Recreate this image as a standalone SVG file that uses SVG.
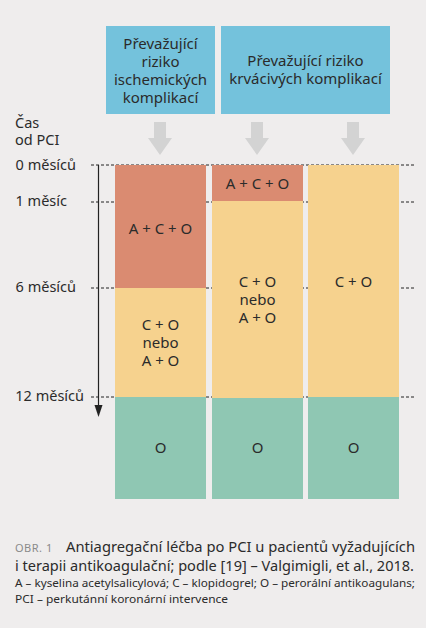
<svg xmlns="http://www.w3.org/2000/svg" width="426" height="628" viewBox="0 0 426 628">
<defs>
<style>
text{font-family:"Noto Sans","Open Sans",sans-serif;fill:#2b2b2b}
.h{font-size:15px;text-anchor:middle}
.c{font-size:15px;text-anchor:middle}
.l{font-size:14.5px;text-anchor:end}
.tick{stroke:#222;stroke-width:1;stroke-dasharray:3 2;fill:none}
.blue{fill:#74c2dc}
.red{fill:#da8b71}
.yel{fill:#f6d28e}
.grn{fill:#8fc7b3}
.garrow{fill:#d3d3d3}
</style>
</defs>
<rect width="426" height="628" fill="#efeded"/>

<g id="connectors">
<line class="tick" x1="91" y1="165" x2="416" y2="165"/>
<line class="tick" x1="91" y1="202" x2="416" y2="202"/>
<line class="tick" x1="91" y1="288" x2="416" y2="288"/>
<line class="tick" x1="91" y1="397" x2="416" y2="397"/>
<line x1="98.5" y1="165" x2="98.5" y2="405" stroke="#222" stroke-width="1.2"/>
<path d="M94.5,405 L102.5,405 L98.5,417 Z" fill="#222"/>
<path class="garrow" d="M154,122 H166 V138 H172 L160,155 L148,138 H154 Z"/>
<path class="garrow" d="M251,122 H263 V138 H269 L257,155 L245,138 H251 Z"/>
<path class="garrow" d="M347,122 H359 V138 H365 L353,155 L341,138 H347 Z"/>
</g>

<g id="head-ischemic">
<rect class="blue" x="106" y="26" width="109" height="88"/>
<text class="h" x="160.5" y="49">Převažující</text>
<text class="h" x="160.5" y="67">riziko</text>
<text class="h" x="160.5" y="85">ischemických</text>
<text class="h" x="160.5" y="103">komplikací</text>
</g>
<g id="head-bleeding">
<rect class="blue" x="221" y="26" width="169" height="88"/>
<text class="h" x="305.5" y="66">Převažující riziko</text>
<text class="h" x="305.5" y="84">krvácivých komplikací</text>
</g>

<g id="axis-labels">
<text x="15" y="128" font-size="14.5px">Čas</text>
<text x="15" y="145" font-size="14.5px">od PCI</text>
<text class="l" x="76" y="170">0 měsíců</text>
<text class="l" x="67" y="206">1 měsíc</text>
<text class="l" x="76" y="292">6 měsíců</text>
<text class="l" x="84" y="401">12 měsíců</text>
</g>

<g id="col1-aco"><rect class="red" x="115" y="165" width="91" height="123"/><text class="c" x="160.5" y="234">A + C + O</text></g>
<g id="col1-co"><rect class="yel" x="115" y="288" width="91" height="109"/>
<text class="c" x="160.5" y="330">C + O</text><text class="c" x="160.5" y="348">nebo</text><text class="c" x="160.5" y="366">A + O</text></g>
<g id="col1-o"><rect class="grn" x="115" y="397" width="91" height="102"/><text class="c" x="160.5" y="453">O</text></g>

<g id="col2-aco"><rect class="red" x="212" y="165" width="91" height="36"/><text class="c" x="257.5" y="189">A + C + O</text></g>
<g id="col2-co"><rect class="yel" x="212" y="201" width="91" height="197"/>
<text class="c" x="257.5" y="287">C + O</text><text class="c" x="257.5" y="305">nebo</text><text class="c" x="257.5" y="323">A + O</text></g>
<g id="col2-o"><rect class="grn" x="212" y="398" width="91" height="101"/><text class="c" x="257.5" y="453">O</text></g>

<g id="col3-co"><rect class="yel" x="308" y="165" width="91" height="232"/><text class="c" x="353.5" y="287">C + O</text></g>
<g id="col3-o"><rect class="grn" x="308" y="397" width="91" height="102"/><text class="c" x="353.5" y="453">O</text></g>

<g id="caption">
<text x="15" y="552" font-size="11px" style="fill:#8a8a8a" letter-spacing="0.5">OBR. 1</text>
<text x="66" y="552" font-size="14.5px" textLength="349" lengthAdjust="spacingAndGlyphs">Antiagregační léčba po PCI u pacientů vyžadujících</text>
<text x="15" y="571" font-size="14.5px" textLength="399" lengthAdjust="spacingAndGlyphs">i terapii antikoagulační; podle [19] – Valgimigli, et al., 2018.</text>
<text x="15" y="587" font-size="11.5px" textLength="400" lengthAdjust="spacingAndGlyphs">A – kyselina acetylsalicylová; C – klopidogrel; O – perorální antikoagulans;</text>
<text x="15" y="603" font-size="11.5px" textLength="213" lengthAdjust="spacingAndGlyphs">PCI – perkutánní koronární intervence</text>
</g>
</svg>
